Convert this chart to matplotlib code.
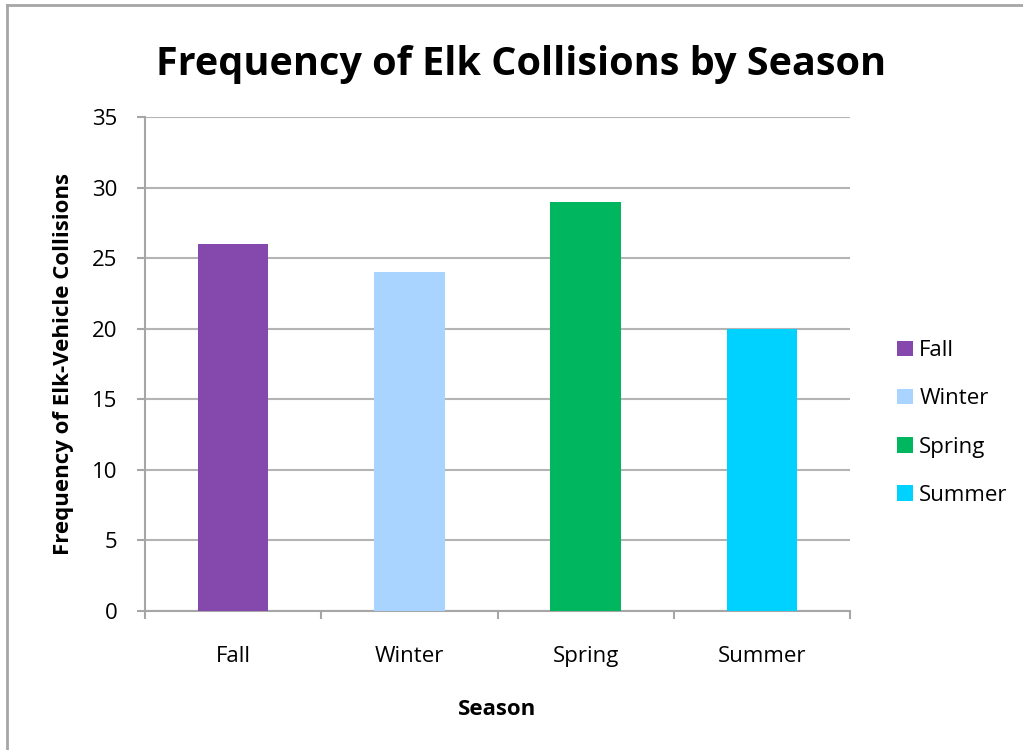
import matplotlib
import numpy as np
from matplotlib import pyplot as plt
from matplotlib.lines import Line2D
from matplotlib.patches import Patch

matplotlib.use("Agg")

seasons = ["Fall", "Winter", "Spring", "Summer"]
collisions = [26, 24, 29, 20]
bar_colors = ["#8548AC", "#A9D4FF", "#00B65E", "#00D2FF"]
y_ticks = [0, 5, 10, 15, 20, 25, 30, 35]

plt.rcParams["font.family"] = ["Open Sans", "DejaVu Sans"]

GRAY = "#A6A6A6"

fig = plt.figure(figsize=(10.23, 7.5), dpi=100)
ax = fig.add_axes([145 / 1023, 1 - 611 / 750, 705 / 1023, 494 / 750])

x = np.arange(len(seasons))
ax.bar(x, collisions, width=0.4, color=bar_colors, zorder=3)

ax.set_xlim(-0.5, len(seasons) - 0.5)
ax.set_ylim(0, 35)
ax.set_yticks(y_ticks)
ax.set_xticks(x)
ax.set_xticklabels(seasons)
ax.set_xticks(np.arange(len(seasons) + 1) - 0.5, minor=True)

ax.tick_params(axis="x", which="major", length=0, pad=25.5, labelsize=16)
ax.tick_params(axis="x", which="minor", length=6, width=1.5, color=GRAY)
ax.tick_params(axis="y", length=6, width=1.5, color=GRAY, pad=14, labelsize=16)

ax.grid(axis="y", color="#B4B4B4", linewidth=1.5, zorder=0)
for side in ["top", "right"]:
    ax.spines[side].set_visible(False)
for side in ["left", "bottom"]:
    ax.spines[side].set_color(GRAY)
    ax.spines[side].set_linewidth(1.5)

ax.set_xlabel("Season", fontsize=16, fontweight="bold", labelpad=22.5)
ax.set_ylabel("Frequency of Elk-Vehicle Collisions", fontsize=16, fontweight="bold", labelpad=13)

fig.text(521 / 1023, 1 - 64 / 750, "Frequency of Elk Collisions by Season",
         fontsize=28.5, fontweight="bold", ha="center", va="center")

handles = [Patch(facecolor=c, edgecolor="none") for c in bar_colors]
fig.legend(handles, seasons, loc="center left", bbox_to_anchor=(877 / 1023, 1 - 423 / 750),
           frameon=False, fontsize=16, handlelength=0.7, handleheight=0.7,
           handletextpad=0.3, labelspacing=1.22)

# outer chart border (only top and left edges fall inside the picture)
fig.add_artist(Line2D([7 / 1023, 7 / 1023], [0, 1 - 5 / 750], transform=fig.transFigure,
                      color=GRAY, linewidth=2))
fig.add_artist(Line2D([7 / 1023, 1], [1 - 5 / 750, 1 - 5 / 750], transform=fig.transFigure,
                      color=GRAY, linewidth=2))

fig.savefig("out.png", dpi=100)
